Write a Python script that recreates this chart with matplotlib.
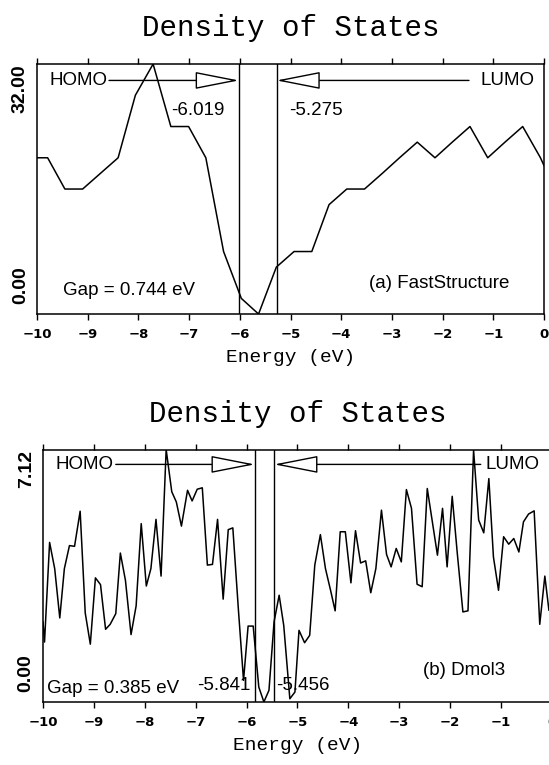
import matplotlib
matplotlib.use("Agg")
import matplotlib.pyplot as plt

# ----------------------------------------------------
# Data
# ----------------------------------------------------
fs_energy = [-10.00, -9.79, -9.45, -9.10, -8.75, -8.40, -8.06, -7.71, -7.36,
             -7.01, -6.67, -6.32, -5.97, -5.63, -5.28, -4.93, -4.58, -4.24,
             -3.89, -3.54, -3.19, -2.85, -2.50, -2.15, -1.81, -1.46, -1.11,
             -0.77, -0.42, -0.07, 0.00]
fs_dos = [20, 20, 16, 16, 18, 20, 28, 32, 24,
          24, 20, 8, 2, 0, 6, 8, 8, 14,
          16, 16, 18, 20, 22, 20, 22, 24, 20,
          22, 24, 20, 19]

dm_energy = [-10.00, -9.97, -9.87, -9.77, -9.67, -9.58, -9.48, -9.38, -9.27,
             -9.17, -9.07, -8.97, -8.87, -8.77, -8.68, -8.57, -8.48, -8.38,
             -8.27, -8.17, -8.07, -7.97, -7.88, -7.78, -7.68, -7.58, -7.47,
             -7.38, -7.28, -7.16, -7.07, -6.97, -6.87, -6.77, -6.67, -6.57,
             -6.46, -6.36, -6.27, -6.16, -6.06, -5.97, -5.87, -5.76, -5.66,
             -5.56, -5.46, -5.36, -5.27, -5.15, -5.05, -4.97, -4.86, -4.76,
             -4.66, -4.55, -4.45, -4.35, -4.26, -4.16, -4.06, -3.95, -3.86,
             -3.76, -3.66, -3.56, -3.46, -3.35, -3.25, -3.16, -3.06, -2.96,
             -2.86, -2.76, -2.65, -2.55, -2.45, -2.35, -2.25, -2.15, -2.06,
             -1.96, -1.86, -1.75, -1.65, -1.54, -1.44, -1.34, -1.24, -1.15,
             -1.05, -0.95, -0.85, -0.75, -0.65, -0.56, -0.46, -0.35, -0.24,
             -0.14, -0.06]
dm_dos = [2.26, 1.69, 4.50, 3.76, 2.37, 3.76, 4.41, 4.39, 5.38,
          2.51, 1.63, 3.50, 3.31, 2.05, 2.19, 2.49, 4.20, 3.43,
          1.90, 2.71, 5.03, 3.27, 3.76, 5.15, 3.55, 7.12, 5.93,
          5.64, 4.96, 5.97, 5.67, 6.00, 6.04, 3.86, 3.88, 5.15,
          2.90, 4.86, 4.91, 2.59, 0.61, 2.14, 2.14, 0.42, 0.00,
          0.33, 2.26, 3.01, 2.16, 0.09, 0.28, 2.02, 1.67, 1.88,
          3.86, 4.72, 3.76, 3.15, 2.57, 4.80, 4.80, 3.36, 4.83,
          3.92, 3.98, 3.08, 3.76, 5.41, 4.16, 3.81, 4.33, 3.95,
          5.99, 5.46, 3.32, 3.25, 6.02, 5.08, 4.14, 5.46, 3.81,
          5.80, 4.19, 2.54, 2.57, 7.10, 5.13, 4.77, 6.30, 4.09,
          3.15, 4.66, 4.45, 4.61, 4.23, 5.08, 5.30, 5.39, 2.19,
          3.55, 2.59]

homo = [-6.019, -5.841]
lumo = [-5.275, -5.456]
gaps = ["0.744", "0.385"]
methods = ["(a) FastStructure", "(b) Dmol3"]
ymax = [32.0, 7.12]
xticks = list(range(-10, 1))

mono = "Liberation Mono"
sans = "Liberation Sans"

fig = plt.figure(figsize=(5.49, 7.65), dpi=100)
ax_top = fig.add_axes([0.0674, 0.5895, 0.9235, 0.3268])
ax_bot = fig.add_axes([0.0783, 0.0824, 0.9271, 0.3300])

panels = [
    (ax_top, fs_energy, fs_dos, 0),
    (ax_bot, dm_energy, dm_dos, 1),
]

for ax, en, dos, i in panels:
    top = ymax[i]
    ax.plot(en, dos, color="black", lw=1.1)
    ax.set_xlim(-10, 0)
    ax.set_ylim(0, top)
    ax.set_yticks([])
    ax.set_xticks(xticks)
    ax.tick_params(axis="x", which="both", top=True, bottom=True,
                   direction="out", length=4, width=1.0, pad=6,
                   labelsize=9.5)
    for lab in ax.get_xticklabels():
        lab.set_fontweight("bold")
        lab.set_family("DejaVu Sans")
    for sp in ax.spines.values():
        sp.set_linewidth(1.1)

    ax.set_title("Density of States", family=mono, fontsize=21, pad=20)
    ax.set_xlabel("Energy (eV)", family=mono, fontsize=14, labelpad=6)

    # HOMO / LUMO levels
    ax.axvline(homo[i], color="black", lw=1.0)
    ax.axvline(lumo[i], color="black", lw=1.0)

    # y range labels
    ax.text(-0.033, 1.0, "%.2f" % top, transform=ax.transAxes, rotation=90,
            ha="center", va="top", family=sans, fontweight="bold", fontsize=14)
    ax.text(-0.033, 0.04, "0.00", transform=ax.transAxes, rotation=90,
            ha="center", va="bottom", family=sans, fontweight="bold", fontsize=14)

# ---- top panel annotations ----
ya = 29.9
ax_top.text(-9.76, ya, "HOMO", family=sans, fontsize=13.5, va="center")
ax_top.text(-1.26, ya, "LUMO", family=sans, fontsize=13.5, va="center")
arrow = dict(arrowstyle="-|>,head_length=2.8,head_width=0.55", fc="white",
             ec="black", lw=1.0, shrinkA=0, shrinkB=0, mutation_scale=10)
ax_top.annotate("", xy=(homo[0], ya), xytext=(-8.58, ya), arrowprops=arrow)
ax_top.annotate("", xy=(lumo[0], ya), xytext=(-1.48, ya), arrowprops=arrow)
ax_top.text(-7.35, 26.0, "%.3f" % homo[0], family=sans, fontsize=13.5, va="center")
ax_top.text(-5.03, 26.0, "%.3f" % lumo[0], family=sans, fontsize=13.5, va="center")
ax_top.text(-9.48, 3.0, "Gap = %s eV" % gaps[0], family=sans, fontsize=13.5, va="center")
ax_top.text(-3.45, 3.9, methods[0], family=sans, fontsize=13.5, va="center")

# ---- bottom panel annotations ----
yb = 6.70
ax_bot.text(-9.75, yb, "HOMO", family=sans, fontsize=13.5, va="center")
ax_bot.text(-1.31, yb, "LUMO", family=sans, fontsize=13.5, va="center")
ax_bot.annotate("", xy=(homo[1], yb), xytext=(-8.57, yb), arrowprops=arrow)
ax_bot.annotate("", xy=(lumo[1], yb), xytext=(-1.40, yb), arrowprops=arrow)
ax_bot.text(-6.97, 0.47, "%.3f" % homo[1], family=sans, fontsize=13.5, va="center")
ax_bot.text(-5.42, 0.47, "%.3f" % lumo[1], family=sans, fontsize=13.5, va="center")
ax_bot.text(-9.93, 0.38, "Gap = %s eV" % gaps[1], family=sans, fontsize=13.5, va="center")
ax_bot.text(-2.53, 0.89, methods[1], family=sans, fontsize=13.5, va="center")

fig.savefig("out.png", dpi=100)
